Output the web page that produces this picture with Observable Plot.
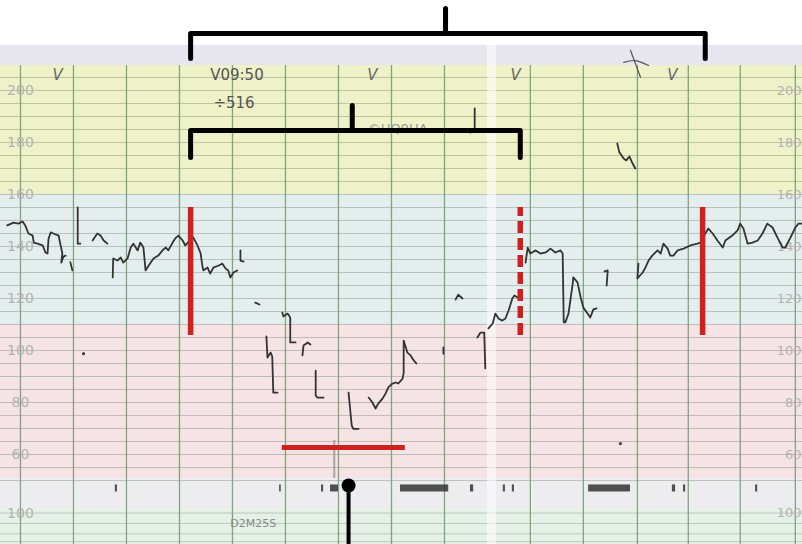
<!DOCTYPE html>
<html><head><meta charset="utf-8">
<script src="https://cdn.jsdelivr.net/npm/d3@7"></script>
<script src="https://cdn.jsdelivr.net/npm/@observablehq/plot@0.6"></script>
<style>html,body{margin:0;padding:0;background:#fff;overflow:hidden}</style>
</head><body><div id="chart"></div>
<script>
// ---------- DATA (time in minutes, fetal heart rate in bpm) ----------
const bandNames = ["white", "margin", "tachy", "normal", "brady", "strip", "toco"];
const bandLow  = [217.3, 209.6, 160.0, 110.0, 50.8, 38.7, 25.4];
const bandHigh = [234.6, 217.3, 209.6, 160.0, 110.0, 50.8, 38.7];

const hrTicks = [200, 180, 160, 140, 120, 100, 80, 60];
const tocoTicks = [100];
const tocoTickPos = [37.5];
const tocoLines = [37.5, 33.5, 29.5, 26.5];
const minuteLines = [0, 1, 2, 3, 4, 5, 6, 7, 8, 9.62, 10.62, 11.64, 12.6, 13.58, 14.62];

const traceTime = [
  -0.25,-0.13,-0.04,0.04,0.09,0.15,0.23,0.25,0.32,0.42,0.47,0.51,0.53,0.57,0.62,0.72,0.75,0.79,0.77,0.81,0.85, null,
  0.94,0.98, null,
  1.08,1.08,1.13, null,
  1.36,1.45,1.51,1.57,1.64, null,
  1.74,1.75,1.83,1.89,1.94,2.02,2.08,2.13,2.21,2.26,2.32,2.36,2.42,2.51,2.60,2.68,2.74,2.79,2.87,2.92,2.98,3.06,3.11,3.19,3.26,3.34,3.40,3.43,3.45,3.53,3.58,3.64,3.74,3.81,3.87,3.92,3.96,4.02,4.09, null,
  4.15,4.15,4.21, null,
  4.43,4.51, null,
  4.64,4.66,4.72,4.75,4.77,4.85, null,
  4.94,4.96,5.04,5.09,5.09,5.19, null,
  5.32,5.34,5.42,5.47, null,
  5.57,5.57,5.60,5.72, null,
  6.19,6.25,6.28,6.38, null,
  6.57,6.64,6.70,6.75,6.83,6.89,6.94,7.02,7.08,7.13,7.21,7.23,7.23,7.30,7.36,7.42,7.47, null,
  7.98,7.98, null,
  8.21,8.26,8.34, null,
  8.62,8.68,8.75,8.77, null,
  8.83,8.91,8.96,9.02,9.09,9.15,9.21,9.28,9.32,9.38,9.45, null,
  9.53,9.57,9.62,9.72,9.81,9.91,10.0,10.09,10.19,10.23,10.25,10.28,10.34,10.42,10.43,10.51,10.57,10.62,10.70,10.75,10.81,10.87, null,
  11.02,11.08,11.06, null,
  11.66,11.64,11.74,11.79,11.85,11.92,12.02,12.08,12.13,12.21,12.26,12.32,12.40,12.51,12.64,12.77,12.83,12.92,12.98,13.06,13.15,13.25,13.30,13.43,13.53,13.58,13.64,13.72,13.81,13.91,14.0,14.09,14.19,14.28,14.38,14.43,14.53,14.62,14.68,14.75, null,
  11.26,11.30,11.38,11.43,11.49,11.55,11.60, null,
  8.57,8.57,8.49
];
const traceBpm = [
  148.1,149.2,148.8,149.6,148.1,145.0,144.2,141.5,141.1,140.4,137.7,137.3,143.1,145.4,145.0,144.2,141.1,137.3,133.8,136.1,136.5, null,
  134.0,130.8, null,
  155.0,141.1,141.1, null,
  142.3,145.0,144.2,142.3,141.1, null,
  128.1,135.4,134.6,135.8,133.8,135.4,139.6,141.1,138.5,141.5,139.6,130.8,132.7,135.4,136.5,138.5,139.6,138.5,141.5,143.1,144.2,142.3,140.4,142.3,143.5,140.4,137.3,132.7,130.8,131.9,129.6,131.9,132.7,133.4,131.5,130.8,128.1,130.0,130.8, null,
  138.5,134.6,134.2, null,
  118.4,117.7, null,
  105.4,97.3,99.2,97.7,83.8,83.8, null,
  114.6,113.1,114.2,112.7,103.1,103.1, null,
  98.1,101.9,103.1,102.3, null,
  92.3,82.7,81.9,81.9, null,
  83.8,71.1,69.9,69.9, null,
  81.9,80.0,77.7,79.6,81.5,83.5,85.8,87.3,87.7,87.3,89.2,91.5,103.8,99.2,98.1,96.2,95.0, null,
  101.2,98.8, null,
  119.6,121.5,120.0, null,
  105.0,106.9,106.9,93.1, null,
  108.5,110.4,114.2,112.3,111.5,112.3,115.4,120.0,121.2,120.4,119.5, null,
  133.8,139.6,137.3,138.5,137.3,137.7,139.2,137.7,138.5,137.3,110.8,110.8,114.2,125.8,128.1,126.2,120.4,116.5,114.2,112.7,115.8,116.2, null,
  130.4,130.8,125.0, null,
  133.4,127.7,130.0,131.9,134.6,136.5,138.5,137.3,141.1,139.2,136.5,136.5,138.5,139.2,140.4,141.1,141.5,145.0,146.9,145.0,142.3,139.6,142.3,144.2,146.2,148.8,146.9,141.1,141.5,142.3,145.0,148.8,147.3,143.5,139.6,139.6,143.5,147.3,148.8,148.8, null,
  179.6,176.2,173.8,173.1,174.6,171.9,170.0, null,
  193.1,185.4,183.8
];
const artifactTime = [1.19, 11.32];
const artifactBpm  = [98.8, 64.2];

// event marker strip
const eventStart = [1.79, 4.89, 5.68, 5.85, 7.17, 8.49, 9.11, 9.28, 10.72, 12.30, 12.51, 13.87];
const eventEnd   = [1.83, 4.92, 5.72, 6.00, 8.08, 8.55, 9.15, 9.32, 11.51, 12.36, 12.55, 13.91];

// annotations
const markTime = [0.70, 6.64, 9.34, 12.30];
const markLabel = ["V", "V", "V", "V"];
const noteTime = [3.58, 3.64, 6.55, 3.96];
const noteBpm = [205.8, 195.0, 185.2, 33.3];
const noteText = ["V09:50", "÷516", "©HQ9HA", "D2M25S"];

const redSolidTime = [3.21, 12.87];
const redDashedTime = [9.43];
const redTop = 155.0, redBottom = 105.8;
const redBarStart = 4.94, redBarEnd = 7.26, redBarBpm = 62.7;

const bracketId   = ["outer","outer","outer","outer", "outerTick","outerTick", "inner","inner","inner","inner", "innerTick","innerTick"];
const bracketTime = [3.21, 3.21, 12.92, 12.92, 8.02, 8.02, 3.21, 3.21, 9.43, 9.43, 6.26, 6.26];
const bracketBpm  = [212.3, 221.9, 221.9, 212.3, 221.9, 231.5, 174.2, 184.6, 184.6, 174.2, 184.6, 194.2];

const scribbleId = ["a","a","a","b","b"];
const scribbleTime = [11.38, 11.6, 11.85, 11.51, 11.70];
const scribbleBpm  = [210.8, 211.5, 209.6, 215.4, 205.0];

const pinTime = 6.19, pinBpm = 48.1;
const guideTime = 5.92, guideTop = 65.4, guideBottom = 50.8;

// ---------- STYLE ----------
const bandFill = {white:"#ffffff", margin:"#e7e6ee", tachy:"#eff1c8", normal:"#e4eeee", brady:"#f5e3e5", strip:"#ededf0", toco:"#e5f0e7"};
const xDomain = [-0.377, 14.755], yDomain = [25.4, 234.6];
const idx = n => Array.from({length: n}, (_, i) => i);

const chart = Plot.plot({
  width: 802, height: 544,
  marginTop: 0, marginBottom: 0, marginLeft: 0, marginRight: 0,
  x: {domain: xDomain, axis: null},
  y: {domain: yDomain, axis: null},
  style: {background: "#fff", fontFamily: "DejaVu Sans, sans-serif"},
  marks: [
    Plot.rect(idx(bandNames.length), {x1: xDomain[0], x2: xDomain[1], y1: i => bandLow[i], y2: i => bandHigh[i], fill: i => bandFill[bandNames[i]]}),
    Plot.ruleY(d3.range(50, 210, 5), {stroke: "#5f6e58", strokeOpacity: 0.34, strokeWidth: 1}),
    Plot.ruleY(tocoLines, {stroke: "#5f6e58", strokeOpacity: 0.3}),
    Plot.ruleX(minuteLines, {y1: 25.4, y2: 209.6, stroke: "#6f966f", strokeWidth: 1.3, strokeOpacity: 0.85}),
    Plot.rect([0], {x1: 8.81, x2: 8.98, y1: 25.4, y2: 217.3, fill: "#ffffff", fillOpacity: 0.55}),
    Plot.text(hrTicks, {x: 0, y: d => d, text: d => String(d), fill: "#b3b3b3", fontSize: 14}),
    Plot.text(hrTicks, {x: 14.755, y: d => d, text: d => String(d), fill: "#b3b3b3", fontSize: 13, textAnchor: "end", dx: -1}),
    Plot.text(tocoTicks, {x: 0, y: (d, i) => tocoTickPos[i], text: d => String(d), fill: "#b3b3b3", fontSize: 14}),
    Plot.text(tocoTicks, {x: 14.755, y: (d, i) => tocoTickPos[i], text: d => String(d), fill: "#b3b3b3", fontSize: 13, textAnchor: "end", dx: -1}),
    Plot.rect(idx(eventStart.length), {x1: i => eventStart[i], x2: i => eventEnd[i], y1: 45.6, y2: 48.3, fill: "#333", fillOpacity: 0.85}),
    Plot.ruleX([guideTime], {y1: guideBottom, y2: guideTop, stroke: "#8a8a8a", strokeWidth: 2, strokeOpacity: 0.7}),
    Plot.text(idx(markTime.length), {x: i => markTime[i], y: 205.8, text: i => markLabel[i], fill: "#666", fontSize: 15, fontStyle: "italic"}),
    Plot.text(idx(noteText.length), {x: i => noteTime[i], y: i => noteBpm[i], text: i => noteText[i], textAnchor: "start",
      fill: i => i === 2 ? "#9a9a9a" : (i === 3 ? "#8a8a8a" : "#555"), fontSize: i => i === 3 ? 11 : (i === 2 ? 13 : 15)}),
    Plot.line(idx(scribbleTime.length), {x: i => scribbleTime[i], y: i => scribbleBpm[i], z: i => scribbleId[i], stroke: "#555", strokeWidth: 1.2, curve: "catmull-rom"}),
    Plot.line(idx(traceTime.length), {x: i => traceTime[i], y: i => traceBpm[i], stroke: "#333", strokeWidth: 1.8, strokeLinejoin: "round"}),
    Plot.dot(idx(artifactTime.length), {x: i => artifactTime[i], y: i => artifactBpm[i], r: 1.6, fill: "#444"}),
    Plot.ruleX(redSolidTime, {y1: redBottom, y2: redTop, stroke: "#d01f1f", strokeWidth: 5.5}),
    Plot.ruleX(redDashedTime, {y1: redBottom, y2: redTop, stroke: "#d01f1f", strokeWidth: 5.5, strokeDasharray: "12,5"}),
    Plot.ruleY([redBarBpm], {x1: redBarStart, x2: redBarEnd, stroke: "#d01f1f", strokeWidth: 5}),
    Plot.line(idx(bracketTime.length), {x: i => bracketTime[i], y: i => bracketBpm[i], z: i => bracketId[i], stroke: "#000", strokeWidth: 5, strokeLinejoin: "round", strokeLinecap: "round"}),
    Plot.ruleX([pinTime], {y1: yDomain[0], y2: pinBpm, stroke: "#000", strokeWidth: 4}),
    Plot.dot([pinTime], {x: d => d, y: pinBpm, r: 7, fill: "#000"})
  ]
});
document.getElementById("chart").appendChild(chart);
</script>
</body></html>
